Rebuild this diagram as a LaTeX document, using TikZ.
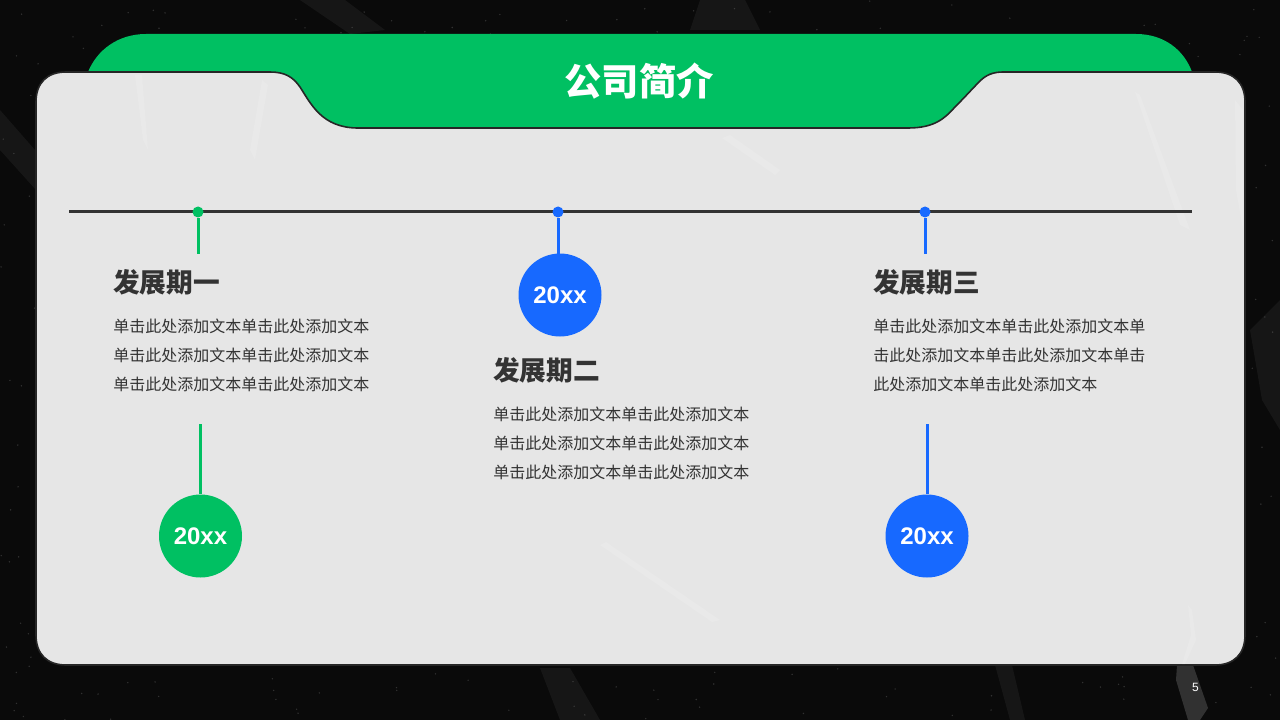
\documentclass[tikz,border=0pt]{standalone}
\usepackage{fontspec}
\usepackage{xcolor}
\setmainfont{Liberation Sans}
\newfontfamily\cjk{Noto Sans CJK SC}
\usetikzlibrary{positioning}
\definecolor{bggreen}{HTML}{00C062}
\definecolor{bgblue}{HTML}{1769FF}
\definecolor{cardgray}{HTML}{E6E6E6}
\definecolor{inkdark}{HTML}{333333}
\definecolor{pageblack}{HTML}{0A0A0A}
\tikzset{
         dot/.style={circle, fill=#1, minimum size=8.25pt, inner sep=0pt},
         stem/.style={line width=2.25pt, draw=#1},
         badge/.style={circle, fill=#1, minimum size=62.25pt, inner sep=0pt, text=white,
                       font=\bfseries\fontsize{18}{20}\selectfont},
         headline/.style={anchor=west, inner sep=0pt, text=inkdark,
                       font=\cjk\bfseries\fontsize{20}{24}\selectfont},
         bodytext/.style={align=left, inner sep=0pt, text=inkdark,
                       font=\cjk\fontsize{12}{21.75}\selectfont},
         crease/.style={fill=white, opacity=0.05},
         cardcrease/.style={fill=white, opacity=0.12},
         }

\begin{document}
\begin{tikzpicture}[x=0.75pt, y=-0.75pt]
    \fill[pageblack] (0,0) rectangle (1280,720);
    \useasboundingbox (0,0) rectangle (1280,720);

    % paper behind the card
    \pgfmathsetseed{5}
    \foreach \i in {1,...,650} {
        \pgfmathsetmacro{\sx}{rnd*1280}
        \pgfmathsetmacro{\sy}{rnd*720}
        \fill[white, opacity=0.16] (\sx,\sy) circle (0.6pt);
    }
    \fill[crease] (300,0) -- (345,0) -- (385,30) -- (350,34) -- cycle;
    \fill[crease] (700,0) -- (745,0) -- (760,30) -- (690,30) -- cycle;
    \fill[crease] (1250,330) -- (1280,300) -- (1280,430) -- (1262,400) -- cycle;
    \fill[crease] (995,665) -- (1010,720) -- (1025,720) -- (1012,665) -- cycle;
    \fill[white, opacity=0.16] (1177,665) -- (1193,665) -- (1208,708) -- (1200,720) -- (1188,720) -- (1176,680) -- cycle;
    \fill[crease] (0,110) -- (35,150) -- (36,190) -- (0,150) -- cycle;
    \fill[crease] (540,668) -- (570,668) -- (600,720) -- (560,720) -- cycle;

    % tab and card
    \fill[bggreen] (88,72) .. controls (97,50) and (118,34) .. (146,34) -- (1136,34)
        .. controls (1164,34) and (1184,50) .. (1192,72) -- (1192,130) -- (88,130) -- cycle;
    \draw[fill=cardgray, draw=black!85, line width=1.2pt] (66,72) -- (270,72)
        .. controls (285,72) and (293,77) .. (300,87)
        .. controls (311,104) and (322,128) .. (358,128) -- (908,128)
        .. controls (935,128) and (945,118) .. (955,107)
        .. controls (965,97) and (972,89) .. (980,81)
        .. controls (986,75) and (993,72) .. (1003,72) -- (1215,72)
        .. controls (1234,72) and (1245,83) .. (1245,102) -- (1245,635)
        .. controls (1245,654) and (1234,665) .. (1215,665) -- (66,665)
        .. controls (47,665) and (36,654) .. (36,635) -- (36,102)
        .. controls (36,83) and (47,72) .. (66,72) -- cycle;
    \fill[cardcrease] (135,75) -- (142,75) -- (148,150) -- (143,140) -- cycle;
    \fill[cardcrease] (262,80) -- (268,85) -- (255,160) -- (250,150) -- cycle;
    \fill[cardcrease] (1135,92) -- (1140,95) -- (1190,230) -- (1180,225) -- cycle;
    \fill[cardcrease] (1235,100) -- (1243,110) -- (1243,230) -- (1236,190) -- cycle;
    \fill[cardcrease] (600,545) -- (606,542) -- (720,620) -- (712,622) -- cycle;
    \fill[cardcrease] (1188,605) -- (1192,610) -- (1196,640) -- (1185,664) -- (1182,664) -- (1191,635) -- cycle;
    \fill[cardcrease] (730,135) -- (780,170) -- (775,175) -- (722,138) -- cycle;
    \node[text=white, inner sep=0pt, font=\cjk\bfseries\fontsize{28}{32}\selectfont] (title) at (639,81) {公司简介};

    % timeline
    \coordinate (lineL) at (69,211.5);
    \coordinate (lineR) at (1192,211.5);
    \draw[line width=2.25pt, draw=inkdark] (lineL) -- (lineR);

    \node[dot=bggreen] (dot1) at (198,212) {};
    \node[dot=bgblue] (dot2) at (558,212) {};
    \node[dot=bgblue] (dot3) at (925,212) {};
    \coordinate (stub1) at (198,253.5);
    \coordinate (stub2) at (558,256);
    \coordinate (stub3) at (925,253.5);
    \draw[stem=bggreen] (dot1) -- (stub1);
    \draw[stem=bgblue] (dot2) -- (stub2);
    \draw[stem=bgblue] (dot3) -- (stub3);

    \node[badge=bggreen] (year1) at (200.5,536) {20xx};
    \node[badge=bgblue] (year2) at (560,295) {20xx};
    \node[badge=bgblue] (year3) at (927,536) {20xx};
    \coordinate (top1) at (200.5,424);
    \coordinate (top3) at (927,424);
    \draw[stem=bggreen] (top1) -- (year1);
    \draw[stem=bgblue] (top3) -- (year3);

    \node[headline] (head1) at (113,282) {发展期一};
    \node[headline] (head2) at (493,370) {发展期二};
    \node[headline] (head3) at (873,282) {发展期三};

    \node[bodytext, below right=18pt and 0pt of head1.south west] (text1)
        {单击此处添加文本单击此处添加文本\\单击此处添加文本单击此处添加文本\\单击此处添加文本单击此处添加文本};
    \node[bodytext, below right=18pt and 0pt of head2.south west] (text2)
        {单击此处添加文本单击此处添加文本\\单击此处添加文本单击此处添加文本\\单击此处添加文本单击此处添加文本};
    \node[bodytext, below right=18pt and 0pt of head3.south west] (text3)
        {单击此处添加文本单击此处添加文本单\\击此处添加文本单击此处添加文本单击\\此处添加文本单击此处添加文本};

    \node[text=white, inner sep=0pt, font=\fontsize{9}{11}\selectfont] (pagenum) at (1195.5,687.5) {5};
\end{tikzpicture}
\end{document}
